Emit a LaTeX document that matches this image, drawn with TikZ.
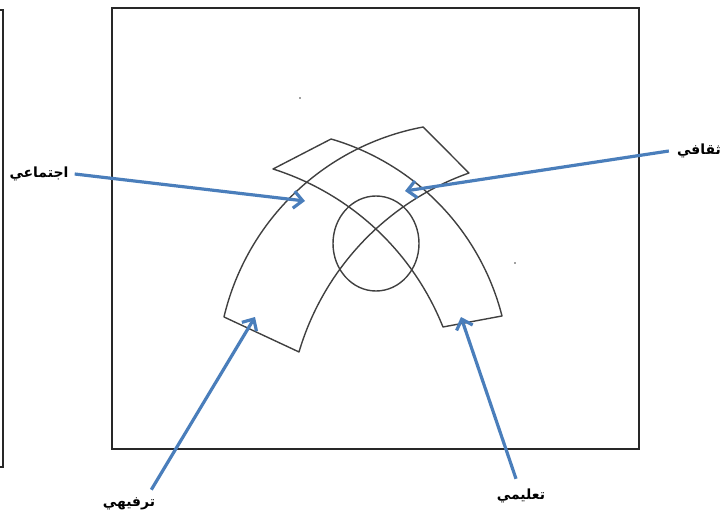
\documentclass[tikz,border=0pt]{standalone}
\usepackage{fontspec}
\newfontfamily\arabicfont[Script=Arabic]{DejaVu Sans}
\usetikzlibrary{arrows.meta}
\TeXXeTstate=1
\definecolor{arrblue}{RGB}{74,126,187}
\definecolor{shapegray}{RGB}{64,64,64}
\definecolor{framegray}{RGB}{40,40,40}
\begin{document}
\begin{tikzpicture}[x=1pt,y=-1pt,
  band/.style={draw=shapegray,line width=1.4pt,line join=round},
  frame/.style={draw=framegray,line width=2.2pt},
  pointer/.style={draw=arrblue,line width=3.2pt,-{Straight Barb[length=9pt,width=17pt]}},
  lbl/.style={font=\arabicfont\bfseries\fontsize{14}{16}\selectfont,inner sep=0pt}]
\useasboundingbox (0,0) rectangle (725,516);
% frames
\draw[frame] (112,8) rectangle (639,449);
\draw[frame] (-5,10) -- (3,10) -- (3,467) -- (-5,467);
% left band
\draw[band] plot[domain=193.3:259.4,samples=60] ({469.5+252.3*cos(\x)},{375+252.3*sin(\x)})
  -- plot[domain=250.55:196.5,samples=60] ({559.4+271.6*cos(\x)},{429.1+271.6*sin(\x)}) -- cycle;
% right band
\draw[band] plot[domain=286.3:345.7,samples=60] ({261.4+248.3*cos(\x)},{377.3+248.3*sin(\x)})
  -- plot[domain=338.28:287.54,samples=60] ({191.4+270.8*cos(\x)},{427.2+270.8*sin(\x)}) -- cycle;
% circle
\draw[band] (376,243.5) ellipse [x radius=43, y radius=47.5];
% specks
\fill[shapegray] (300,98) circle (0.8);
\fill[shapegray] (515,263) circle (0.8);
% labels
\node[lbl] (ijt) at (39,174) {\beginR اجتماعي\endR};
\node[lbl] (thaq) at (699,151) {\beginR ثقافي\endR};
\node[lbl] (tarf) at (129,504) {\beginR ترفيهي\endR};
\node[lbl] (taal) at (521,496) {\beginR تعليمي\endR};
% arrow tips
\coordinate (tipA) at (305,201);
\coordinate (tipB) at (405,191);
\coordinate (tipC) at (255,317);
\coordinate (tipD) at (461,317);
\draw[pointer] ([xshift=6pt]ijt.east) -- (tipA);
\draw[pointer] ([xshift=-8pt]thaq.west) -- (tipB);
\draw[pointer] ([shift={(-4,-8)}]tarf.north east) -- (tipC);
\draw[pointer] ([shift={(-5,-10)}]taal.north) -- (tipD);
\end{tikzpicture}
\end{document}
